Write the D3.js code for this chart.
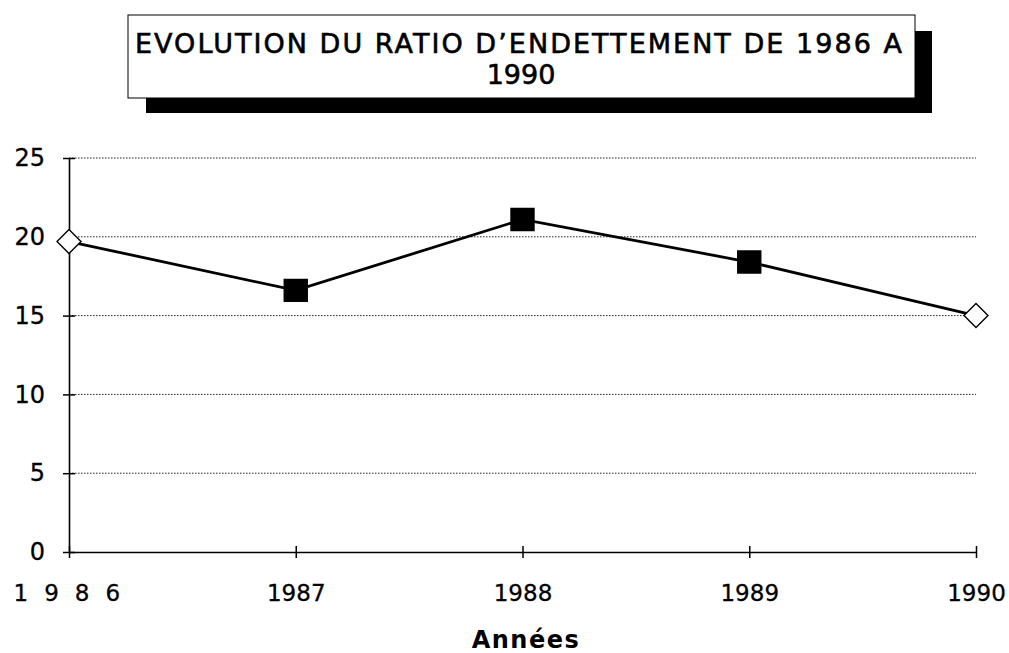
<!DOCTYPE html>
<html>
<head>
<meta charset="utf-8">
<script src="https://cdn.jsdelivr.net/npm/d3@7"></script>
<style>
  body { margin: 0; background: #fff; }
  text { font-family: "DejaVu Sans", Verdana, sans-serif; fill: #000; }
</style>
</head>
<body>
<svg id="chart" width="1009" height="653"></svg>
<script>
// data
var years = ['1986', '1987', '1988', '1989', '1990'];
var ratio = [19.7, 16.6, 21.1, 18.4, 15.0];
// hollow diamonds at the ends, filled squares in between
var markerKind = ['diamond', 'square', 'square', 'square', 'diamond'];
var yTicks = [0, 5, 10, 15, 20, 25];
var titleLines = ['EVOLUTION DU RATIO D\u2019ENDETTEMENT DE 1986 A', '1990'];
var xTitle = 'Ann\u00e9es';

var FONT = '"DejaVu Sans", Verdana, sans-serif';
var svg = d3.select('#chart');

var x = d3.scalePoint().domain(years).range([69, 976]);
var y = d3.scaleLinear().domain([0, 25]).range([552, 158]);

// title box with a heavy drop shadow
var title = svg.append('g');
title.append('rect')
  .attr('x', 146).attr('y', 31).attr('width', 786).attr('height', 82)
  .attr('fill', '#000');
title.append('rect')
  .attr('x', 128).attr('y', 15).attr('width', 787).attr('height', 83)
  .attr('fill', '#fff').attr('stroke', '#000').attr('stroke-width', 1);
title.append('text')
  .attr('x', 135).attr('y', 53)
  .attr('font-size', 27)
  .attr('stroke', '#000').attr('stroke-width', 0.6)
  .attr('textLength', 767).attr('lengthAdjust', 'spacing')
  .text(titleLines[0]);
title.append('text')
  .attr('x', 521).attr('y', 84)
  .attr('text-anchor', 'middle')
  .attr('font-size', 27)
  .attr('stroke', '#000').attr('stroke-width', 0.6)
  .text(titleLines[1]);

// dotted gridlines
svg.append('g').selectAll('line')
  .data(yTicks.filter(function (d) { return d > 0; }))
  .join('line')
  .attr('x1', x.range()[0]).attr('x2', x.range()[1])
  .attr('y1', function (d) { return y(d); })
  .attr('y2', function (d) { return y(d); })
  .attr('stroke', '#222')
  .attr('stroke-width', 1)
  .attr('stroke-dasharray', '1.5,1.5');

// y axis, ticks cross the axis line
var yAxis = svg.append('g')
  .attr('transform', 'translate(69,0)')
  .call(d3.axisLeft(y).tickValues(yTicks).tickSize(6).tickSizeOuter(0).tickPadding(18));
yAxis.select('.domain').attr('stroke-width', 1.6);
yAxis.selectAll('.tick line').attr('x1', 6).attr('stroke-width', 1.5);
yAxis.selectAll('text')
  .attr('font-size', 24)
  .attr('stroke', '#000').attr('stroke-width', 0.3)
  .attr('font-family', FONT);

// x axis
var xAxis = svg.append('g')
  .attr('transform', 'translate(0,552)')
  .call(d3.axisBottom(x).tickSize(6).tickSizeOuter(0).tickPadding(27));
xAxis.select('.domain').attr('stroke-width', 1.6);
xAxis.selectAll('.tick line').attr('y1', -6).attr('stroke-width', 1.5);
xAxis.selectAll('text')
  .attr('font-size', 23)
  .attr('stroke', '#000').attr('stroke-width', 0.3)
  .attr('font-family', FONT);
// the first year label is printed spaced out in the original
xAxis.selectAll('.tick text')
  .filter(function (d) { return d === years[0]; })
  .attr('text-anchor', 'start')
  .attr('x', 13 - x(years[0]))
  .attr('letter-spacing', 16);

svg.append('text')
  .attr('x', 526).attr('y', 648)
  .attr('text-anchor', 'middle')
  .attr('font-size', 24)
  .attr('font-weight', 'bold')
  .attr('letter-spacing', 1.5)
  .text(xTitle);

// the series line
var line = d3.line()
  .x(function (d, i) { return x(years[i]); })
  .y(function (d) { return y(d); });
svg.append('path')
  .datum(ratio)
  .attr('d', line)
  .attr('fill', 'none')
  .attr('stroke', '#000')
  .attr('stroke-width', 2.8);

// markers
svg.append('g').selectAll('path')
  .data(ratio)
  .join('path')
  .attr('transform', function (d, i) {
    return 'translate(' + x(years[i]) + ',' + y(d) + ')';
  })
  .attr('d', function (d, i) {
    if (markerKind[i] === 'diamond') return 'M0,-12L12,0L0,12L-12,0Z';
    return 'M-11.5,-11H11.5V11H-11.5Z';
  })
  .attr('fill', function (d, i) { return markerKind[i] === 'diamond' ? '#fff' : '#000'; })
  .attr('stroke', '#000')
  .attr('stroke-width', 1.4);
</script>
</body>
</html>
